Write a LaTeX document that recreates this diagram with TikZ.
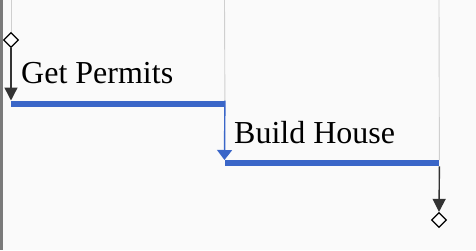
\documentclass[tikz,border=0pt]{standalone}
\usepackage{fontspec}
\setmainfont{Liberation Serif}
\newfontfamily\labelfont{Liberation Serif}
\usetikzlibrary{shapes.geometric,arrows.meta}
\definecolor{bg}{HTML}{FAFAFA}
\definecolor{barblue}{HTML}{3A66C8}
\definecolor{darkline}{HTML}{333333}
\definecolor{grid}{HTML}{CFCFCF}
\definecolor{edge}{HTML}{7A7A7A}
\tikzset{
  milestone/.style={shape=diamond, draw=black, line width=1.2pt, fill=white,
    minimum width=15pt, minimum height=15pt, inner sep=0pt},
  taskbar/.style={rectangle, fill=barblue, minimum height=6pt, inner sep=0pt,
    anchor=north west},
  tasklabel/.style={anchor=base west, inner sep=0pt,
    font=\labelfont\fontsize{32}{38}\selectfont},
  gridline/.style={draw=grid, line width=0.9pt},
  darkdep/.style={draw=darkline, line width=1.4pt, -{Triangle[length=13pt,width=13pt]}},
  bluedep/.style={draw=barblue, line width=1.4pt, -{Triangle[length=10pt,width=15pt]}}
}
\begin{document}
\begin{tikzpicture}[x=1pt,y=-1pt]
  \fill[bg] (0,0) rectangle (476,250);
  \useasboundingbox (0,0) rectangle (476,250);
  \fill[edge] (0,0) rectangle (2.5,250);

  % grid coordinates at the top edge
  \coordinate (g1) at (11,0);
  \coordinate (g2) at (224.5,0);
  \coordinate (g3) at (439,0);

  % milestones and task bars
  \node[milestone] (start) at (11,40) {};
  \node[taskbar, minimum width=213.5pt] (permits) at (11,100.5) {};
  \node[taskbar, minimum width=214.5pt] (house) at (224.5,160) {};
  \node[milestone] (finish) at (439,220) {};

  % vertical grid lines down to each item
  \draw[gridline] (g1) -- (start.north);
  \draw[gridline] (g2) -- (permits.north east);
  \draw[gridline] (g3) -- (house.north east);

  % labels
  \node[tasklabel] (lp) at (21,83.3) {Get Permits};
  \node[tasklabel] (lh) at (234,143.3) {Build House};

  % dependencies
  \draw[darkdep] (start.south) -- (permits.north west);
  \draw[bluedep] (permits.north east) -- (house.north west);
  \draw[darkdep] (house.south east) -- (finish.north);
\end{tikzpicture}
\end{document}
